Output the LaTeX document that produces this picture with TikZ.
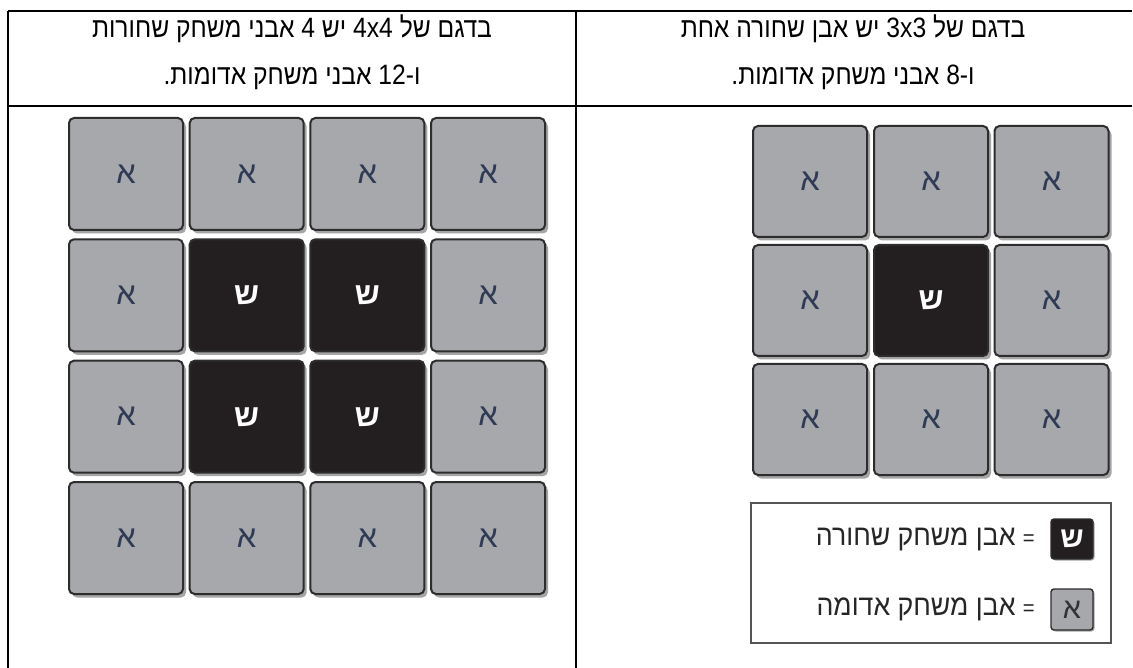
\documentclass[tikz,border=0pt]{standalone}
\usepackage{fontspec}
\usetikzlibrary{shadows}
\TeXXeTstate=1
\newfontfamily\hebhead[Script=Hebrew, FakeStretch=0.88]{Liberation Sans}
\newfontfamily\heblegend[Script=Hebrew, FakeStretch=0.92]{Liberation Sans}
\newfontfamily\hebsans[Script=Hebrew]{Liberation Sans}
\definecolor{tilegray}{HTML}{A7A8AC}
\definecolor{tileedge}{HTML}{2D2D2D}
\definecolor{tileblack}{HTML}{231F20}
\definecolor{letterblue}{HTML}{2F3A55}
\definecolor{shadowgray}{HTML}{9C9C9C}
\definecolor{legendedge}{HTML}{555555}
\tikzset{
  rule/.style={line width=1.6pt, black},
  tilebase/.style={rounded corners=5pt, line width=2pt, draw=tileedge,
    minimum width=114pt, minimum height=112pt, inner sep=0pt,
    drop shadow={shadow xshift=3pt, shadow yshift=-3.5pt, fill=shadowgray, opacity=0.9},
    font=\hebsans\fontsize{31}{34}\selectfont},
  redtile/.style={tilebase, fill=tilegray, text=letterblue},
  blacktile/.style={tilebase, fill=tileblack, text=white, font=\hebsans\bfseries\fontsize{31}{34}\selectfont},
  headtext/.style={font=\hebhead\fontsize{28}{32}\selectfont, anchor=base, inner sep=0pt},
  legendbox/.style={draw=legendedge, line width=1.2pt},
  legendtext/.style={font=\heblegend\fontsize{29}{32}\selectfont, text=black!85, anchor=east, inner sep=0pt},
  smalltile/.style={rounded corners=3pt, line width=1.4pt, draw=tileedge,
    minimum width=42pt, minimum height=40pt, inner sep=0pt,
    drop shadow={shadow xshift=1.5pt, shadow yshift=-1.5pt, fill=shadowgray, opacity=0.9},
    font=\hebsans\fontsize{29}{30}\selectfont}
}
\begin{document}
\begin{tikzpicture}[x=1pt, y=-1pt]
\useasboundingbox (0,0) rectangle (1133,668);
\fill[white] (0,0) rectangle (1133,668);
% table rules
\coordinate (tl) at (8,11);
\coordinate (tr) at (1132,11);
\coordinate (ml) at (8,106);
\coordinate (mr) at (1132,106);
\coordinate (bl) at (8,668);
\coordinate (ct) at (576,11);
\coordinate (cb) at (576,668);
\draw[rule] (tl) -- (tr);
\draw[rule] (ml) -- (mr);
\draw[rule] (tl) -- (bl);
\draw[rule] (ct) -- (cb);
% header texts
\node[headtext] (hl1) at (292,38) {\beginR בדגם של \beginL4x4\endL{} יש 4 אבני משחק שחורות\endR};
\node[headtext] (hl2) at (292,85) {\beginR ו-\beginL12\endL{} אבני משחק אדומות\kern0pt.\endR};
\node[headtext] (hr1) at (853,38) {\beginR בדגם של \beginL3x3\endL{} יש אבן שחורה אחת\endR};
\node[headtext] (hr2) at (853,85) {\beginR ו-\beginL8\endL{} אבני משחק אדומות\kern0pt.\endR};
% left grid 4x4
\foreach \c/\xx in {1/126,2/246.7,3/367.3,4/488}{
  \foreach \r/\yy in {1/174,2/295.3,3/416.7,4/538}{
    \pgfmathtruncatemacro{\inner}{(\c>1)&&(\c<4)&&(\r>1)&&(\r<4)}
    \ifnum\inner=1
      \node[blacktile] (L\r\c) at (\xx,\yy) {ש};
    \else
      \node[redtile] (L\r\c) at (\xx,\yy) {א};
    \fi
  }
}
% right grid 3x3
\foreach \c/\xx in {1/810,2/931,3/1051.5}{
  \foreach \r/\yy in {1/181.5,2/300.5,3/419.5}{
    \pgfmathtruncatemacro{\inner}{(\c==2)&&(\r==2)}
    \ifnum\inner=1
      \node[blacktile, minimum height=111pt] (R\r\c) at (\xx,\yy) {ש};
    \else
      \node[redtile, minimum height=111pt] (R\r\c) at (\xx,\yy) {א};
    \fi
  }
}
% legend
\draw[legendbox] (751,503) rectangle (1111,643);
\node[smalltile, fill=tileblack, text=white, font=\hebsans\bfseries\fontsize{29}{30}\selectfont] (lgb) at (1072,539) {ש};
\node[smalltile, fill=tilegray, text=black!80, minimum height=41pt] (lgr) at (1072,609.5) {א};
\node[legendtext] (lgbt) at (1035,539) {\beginR {\fontsize{22}{24}\selectfont =} אבן משחק שחורה\endR};
\node[legendtext] (lgrt) at (1035,609) {\beginR {\fontsize{22}{24}\selectfont =} אבן משחק אדומה\endR};
\end{tikzpicture}
\end{document}
